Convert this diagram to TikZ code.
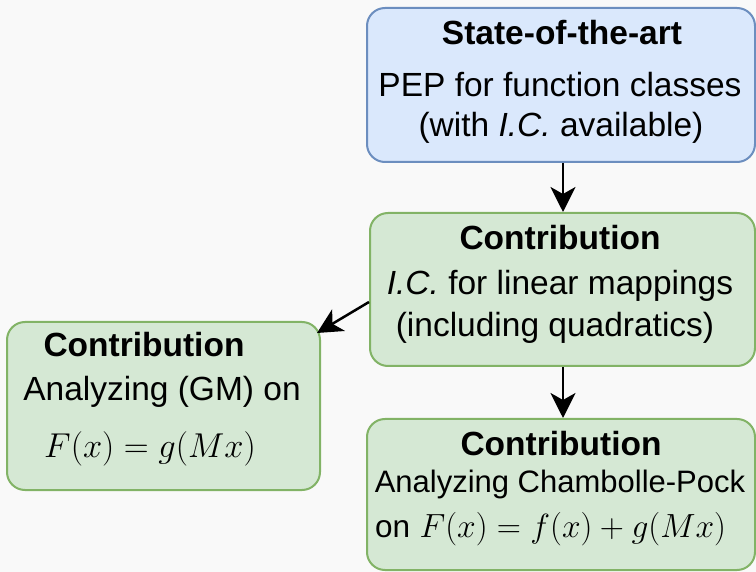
\RequirePackage{fix-cm}
\documentclass[tikz,border=0pt]{standalone}
\usepackage{fontspec}
\setmainfont{Liberation Sans}
\usetikzlibrary{arrows.meta}
\definecolor{bgc}{RGB}{249,249,249}
\definecolor{bluefill}{HTML}{DAE8FC}
\definecolor{blueline}{HTML}{6C8EBF}
\definecolor{greenfill}{HTML}{D5E8D4}
\definecolor{greenline}{HTML}{82B366}

\begin{document}
\begin{tikzpicture}[x=1pt,y=-1pt,
  card/.style={draw, line width=2pt, rounded corners=18pt, inner sep=0pt},
  bluecard/.style={card, draw=blueline, fill=bluefill},
  greencard/.style={card, draw=greenline, fill=greenfill},
  txt/.style={anchor=base, inner sep=0pt, font=\fontsize{33.5}{40}\selectfont},
  head/.style={txt, font=\fontsize{33.5}{40}\selectfont\bfseries},
  link/.style={line width=2.5pt, -{Stealth[length=25pt,width=25pt,inset=7pt]}}
]
% canvas
\fill[bgc] (0,0) rectangle (756,572);
\useasboundingbox (0,0) rectangle (756,572);

% boxes
\node[bluecard, minimum width=388pt, minimum height=154pt] (top) at (561,85) {};
\node[greencard, minimum width=385pt, minimum height=153pt] (mid) at (562.5,289.5) {};
\node[greencard, minimum width=313pt, minimum height=168pt] (left) at (163.5,406) {};
\node[greencard, minimum width=388pt, minimum height=151pt] (bot) at (561,494.5) {};

% texts of the state-of-the-art box
\node[head] (t1) at (562,45) {State-of-the-art};
\node[txt] (t2) at (560,97) {PEP for function classes};
\node[txt] (t3) at (561,137) {(with \textit{I.C.} available)};

% texts of the middle contribution
\node[head] (m1) at (560,250) {Contribution};
\node[txt] (m2) at (560,295) {\textit{I.C.} for linear mappings};
\node[txt] (m3) at (555,337) {(including quadratics)};

% texts of the left contribution
\node[head] (l1) at (144,357) {Contribution};
\node[txt] (l2) at (162,400) {Analyzing (GM) on};
\node[txt, font=\fontsize{34.5}{40}\selectfont] (l3) at (150,457) {$F(x) = g(Mx)$};

% texts of the bottom contribution
\node[head] (b1) at (561,455) {Contribution};
\node[txt, font=\fontsize{31}{38}\selectfont] (b2) at (560,493) {Analyzing Chambolle-Pock};
\node[txt, anchor=base west] (b3) at (375,537) {{\fontsize{31.5}{38}\selectfont on} $F(x) = f(x) + g(Mx)$};

% connectors
\coordinate (tipL) at (317,333);
\draw[link] ([xshift=2pt]top.south) -- ([xshift=2pt]top.south |- mid.north);
\draw[link] ([xshift=0.5pt]mid.south) -- ([xshift=0.5pt]mid.south |- bot.north);
\draw[link] ([yshift=-12.5pt]mid.west) -- (tipL);
\end{tikzpicture}
\end{document}
